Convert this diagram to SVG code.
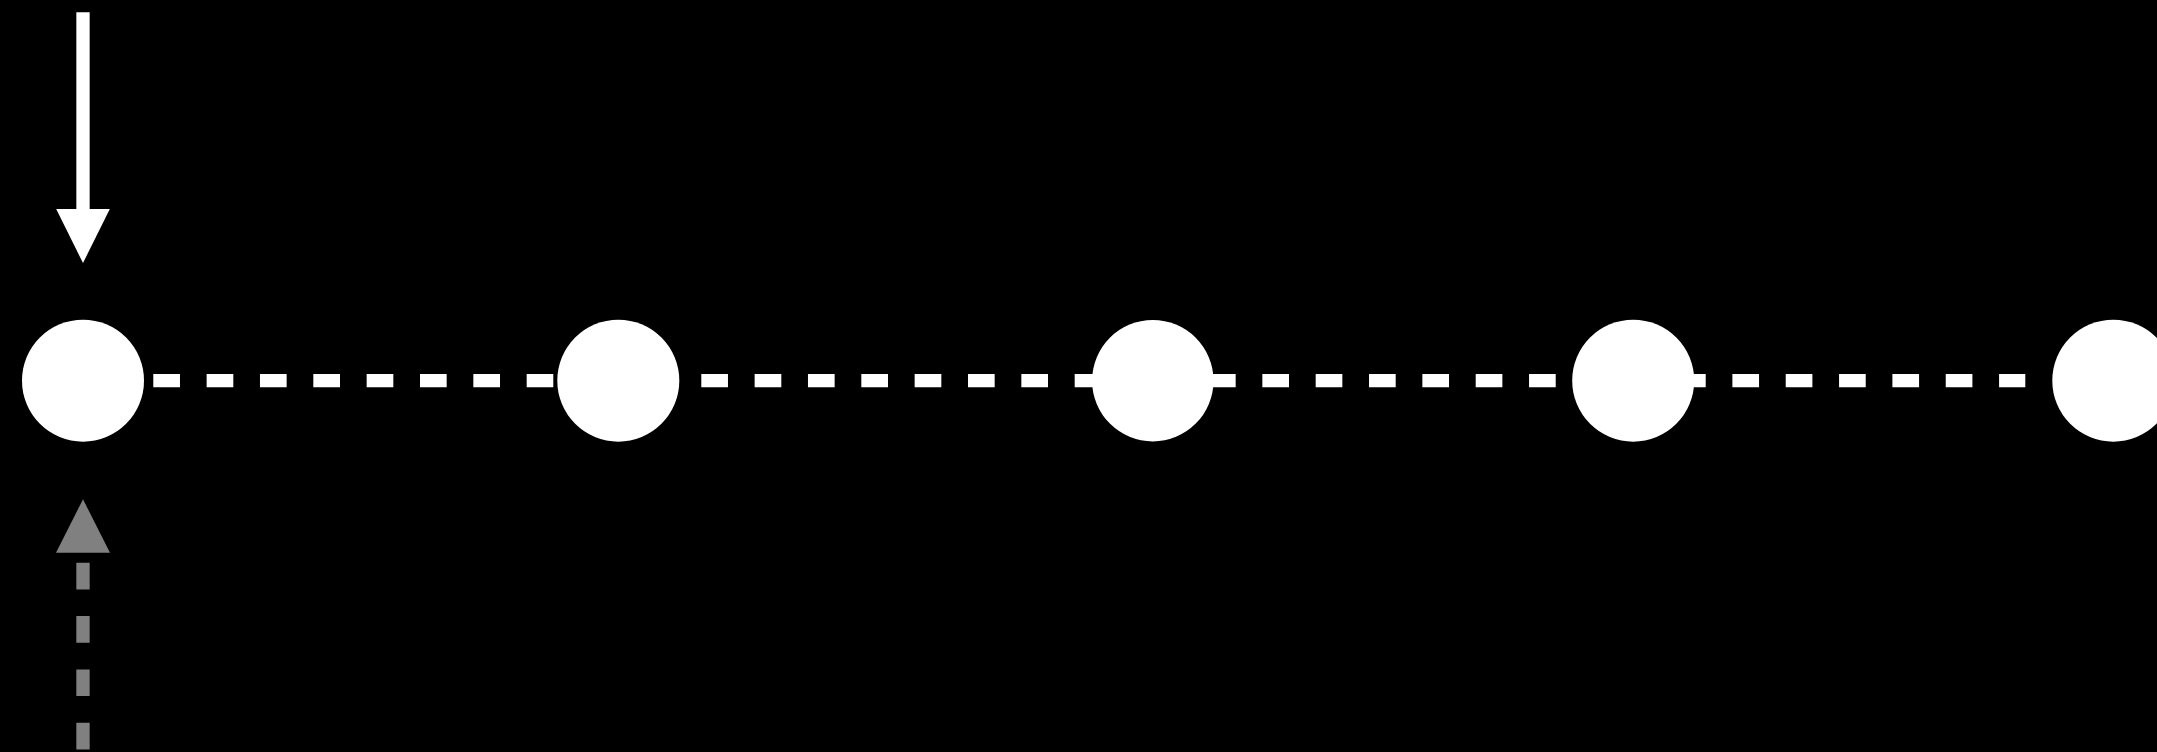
<svg xmlns="http://www.w3.org/2000/svg" width="2157" height="752" viewBox="0 0 2157 752">
  <style>
    .link { stroke: #ffffff; stroke-width: 13.33; stroke-dasharray: 26.67 26.67; fill: none; }
    .in { stroke: #ffffff; stroke-width: 13.33; fill: none; }
    .back { stroke: #808080; stroke-width: 13.33; stroke-dasharray: 26.67 26.67; stroke-dashoffset: 43.33; fill: none; }
    .node { fill: #ffffff; }
  </style>
  <defs>
    <marker id="headWhite" markerUnits="userSpaceOnUse" markerWidth="54" markerHeight="54" viewBox="0 0 53.7 53.33" refX="0" refY="26.67" orient="auto">
      <path d="M0,0 L53.7,26.67 L0,53.33 Z" fill="#ffffff"/>
    </marker>
    <marker id="headGray" markerUnits="userSpaceOnUse" markerWidth="54" markerHeight="54" viewBox="0 0 53.4 54" refX="0" refY="27" orient="auto-start-reverse">
      <path d="M0,0 L53.4,27 L0,54 Z" fill="#808080"/>
    </marker>
  </defs>
  <rect x="0" y="0" width="2157" height="752" fill="#000000"/>
  <g id="connectors">
    <line class="in" x1="83" y1="12.3" x2="83" y2="209" marker-end="url(#headWhite)"/>
    <line class="back" x1="83" y1="552.7" x2="83" y2="790" marker-start="url(#headGray)"/>
    <line class="link" x1="153.3" y1="380.7" x2="553.3" y2="380.7"/>
    <line class="link" x1="701.3" y1="380.7" x2="1101.3" y2="380.7"/>
    <line class="link" x1="1209" y1="380.7" x2="1609" y2="380.7"/>
    <line class="link" x1="1625.7" y1="380.7" x2="2025.3" y2="380.7"/>
  </g>
  <g id="node1"><circle class="node" cx="83" cy="380.7" r="61"/></g>
  <g id="node2"><circle class="node" cx="618.3" cy="380.7" r="61"/></g>
  <g id="node3"><circle class="node" cx="1152.8" cy="380.7" r="60.7"/></g>
  <g id="node4"><circle class="node" cx="1633.2" cy="380.7" r="61"/></g>
  <g id="node5"><circle class="node" cx="2113.3" cy="380.7" r="61"/></g>
</svg>
